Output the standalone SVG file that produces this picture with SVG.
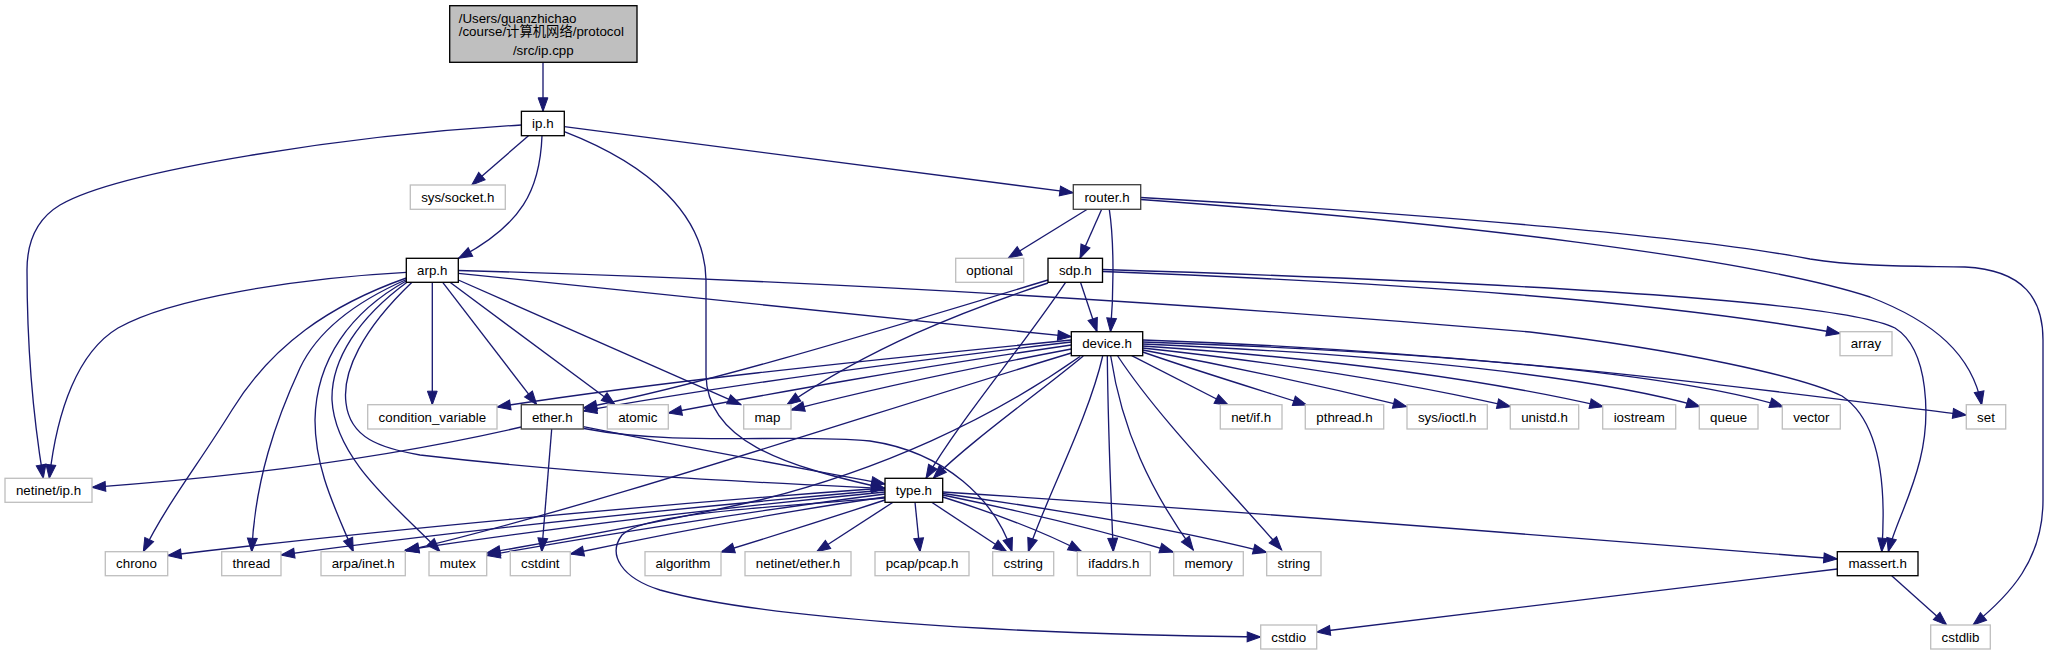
<svg xmlns="http://www.w3.org/2000/svg" width="2049" height="655" viewBox="0 0 2049 655">
<style>
.n rect{fill:#fff;stroke:#000;stroke-width:1.33}
.n.s rect{stroke:#bfbfbf}
.n.g rect{stroke:#404040}
.n.r rect{fill:#bfbfbf;stroke:#000}
text{font-family:"Liberation Sans",Arial,"Noto Sans CJK SC",sans-serif;font-size:13.33px;fill:#000}
.n text{text-anchor:middle}
#edges path{fill:none;stroke:#191970;stroke-width:1.33;marker-end:url(#arr)}
</style>
<defs>
<marker id="arr" markerUnits="userSpaceOnUse" markerWidth="16" markerHeight="12" refX="13.5" refY="4.9" orient="auto" style="overflow:visible">
<path d="M0,0 L13.5,4.9 L0,9.8 Z" fill="#191970" stroke="#191970" stroke-width="1"/>
</marker>
</defs>
<rect width="2049" height="655" fill="#fff"/>
<g id="edges">
<path d="M543,62.3 L543,111.3"/>
<path d="M528.5,135.7 L471.7,185"/>
<path d="M542,135.7 C540,190 522,225 458.5,258.3"/>
<path d="M521.4,125 C350,135 120,170 60,205 C35,220 27,245 27,270 C27,340 32,410 43.3,478.3"/>
<path d="M564.3,131.7 C650,165 705,215 706,280 L706,375 C707,440 780,465 885,488.5"/>
<path d="M564.3,126.7 L1073.3,192.7"/>
<path d="M1087.3,209.3 L1008.3,258"/>
<path d="M1101.7,209.3 L1080,258.3"/>
<path d="M1109.3,209.3 C1114,240 1114,290 1110.5,331.7"/>
<path d="M1140.7,197.5 C1450,215 1700,238 1810,259 C1860,267 1920,266 1965,267 C2025,270 2043,300 2043,340 L2043,500 C2043,560 2010,595 1973,625"/>
<path d="M1140.7,199.5 C1450,222 1750,258 1870,297 C1935,322 1972,355 1981.7,405"/>
<path d="M406.3,272.3 C300,278 170,298 118,328 C78,352 57,410 49.3,478.3"/>
<path d="M406.3,278 C330,305 272,345 232,410 C198,465 166,505 143.3,551.7"/>
<path d="M406.5,279.5 C355,302 318,330 300,368 C276,420 255,480 251.7,551.7"/>
<path d="M407,280.5 C350,312 316,360 315,420 C315,470 336,510 353.3,551.7"/>
<path d="M408,281.5 C358,318 331,360 332,400 C335,460 398,508 440,551.7"/>
<path d="M412,282.3 C362,330 342,372 346,403 C350,438 380,448 420,455 C600,476 750,482 885,488.5"/>
<path d="M432.3,282.3 L432.3,404.7"/>
<path d="M442.7,282.3 L536.7,404.7"/>
<path d="M450,282.3 L615,404.7"/>
<path d="M458.3,280 L741,404.7"/>
<path d="M458.3,273.3 C700,298 900,320 1071.3,336.7"/>
<path d="M458.3,270.5 C800,280 1150,300 1530,332 C1680,350 1800,376 1842,396 C1878,420 1887,480 1881.7,551.7"/>
<path d="M1048,280 C850,340 700,385 583.3,408"/>
<path d="M1048,283 C960,312 870,348 787,404.7"/>
<path d="M1065.6,282.3 C1020,350 960,420 926,478.3"/>
<path d="M1080.5,282.3 L1097,331.7"/>
<path d="M1102.7,271.5 C1400,283 1650,300 1840,333.5"/>
<path d="M1102.7,269.5 C1500,282 1840,300 1895,328 C1930,350 1930,420 1920,460 C1910,500 1895,525 1888.3,551.7"/>
<path d="M1071.3,340 C850,362 650,383 497,407"/>
<path d="M1071.3,342 C850,368 700,390 583.3,411"/>
<path d="M1071.3,345 C900,370 780,392 668.3,413"/>
<path d="M1071.3,349 C950,372 860,392 791,410"/>
<path d="M1071.3,353 C850,420 600,505 405.3,551"/>
<path d="M1080,356.5 C990,420 880,470 760,500 C650,525 560,540 486.7,553"/>
<path d="M1083.3,356 C1040,392 972,440 933.3,478.3"/>
<path d="M1102.7,356 C1088,420 1045,500 1028.3,551.7"/>
<path d="M1107.3,356 C1108,420 1111,500 1113.3,551.7"/>
<path d="M1110.7,356 C1122,430 1150,490 1193.3,550"/>
<path d="M1117.7,356 C1160,420 1230,490 1281.7,550"/>
<path d="M1131.7,355.7 L1228.3,405"/>
<path d="M1142.7,352 C1200,372 1260,390 1306.7,405"/>
<path d="M1142.7,350 C1240,368 1330,388 1406.7,406.7"/>
<path d="M1142.7,348 C1300,365 1420,386 1510.7,406.7"/>
<path d="M1142.7,346 C1350,360 1500,383 1603.3,406.7"/>
<path d="M1142.7,344 C1400,355 1600,378 1700,406.7"/>
<path d="M1142.7,342 C1450,352 1680,375 1783.3,406.7"/>
<path d="M1142.7,340 C1500,352 1800,395 1966.3,415"/>
<path d="M885,488 C650,505 380,530 167.7,555.5"/>
<path d="M885,490 C680,508 450,532 281,555"/>
<path d="M885,492 C720,508 540,530 405.3,550"/>
<path d="M885,494 C760,510 600,535 486.7,555.5"/>
<path d="M885,497 C780,512 660,535 570.3,554"/>
<path d="M885,500 C830,518 770,537 721,552"/>
<path d="M893,502.3 L816.7,551.7"/>
<path d="M915,502.3 L920,551.7"/>
<path d="M931.7,502.3 L1006.7,551.7"/>
<path d="M942.7,497 C1000,515 1050,535 1081.7,551.7"/>
<path d="M942.7,495 C1030,513 1110,533 1173.3,552"/>
<path d="M942.7,493.5 C1060,510 1180,530 1266.7,552.5"/>
<path d="M942.7,492 C1300,515 1600,540 1837.3,559"/>
<path d="M885,498 C750,508 640,515 622,535 C607,555 622,578 660,590 C760,618 1000,634 1260.7,637"/>
<path d="M521.3,427 C400,455 250,476 92,487.3"/>
<path d="M551.7,429 L541.7,551.7"/>
<path d="M583.3,426.7 C700,450 800,468 885,484"/>
<path d="M584,428.5 C680,447 790,433 870,441 C945,452 995,500 1012,551.7"/>
<path d="M1837.3,569 L1316.7,632"/>
<path d="M1891.7,575.7 L1946.7,625"/>
</g>
<g id="node-root" class="n r"><rect x="449.7" y="5.7" width="187.3" height="56.6"/>
<text x="458.7" y="22.7" style="text-anchor:start">/Users/guanzhichao</text>
<text x="458.7" y="36" style="text-anchor:start">/course/计算机网络/protocol</text>
<text x="543.3" y="54.5">/src/ip.cpp</text></g>
<g id="node-ip_h" class="n"><rect x="521.4" y="111.3" width="42.9" height="24.4"/><text x="542.85" y="128">ip.h</text></g>
<g id="node-sys_socket_h" class="n s"><rect x="410.3" y="185" width="95" height="24.3"/><text x="457.8" y="201.8">sys/socket.h</text></g>
<g id="node-router_h" class="n g"><rect x="1073.3" y="184.7" width="67.4" height="24.6"/><text x="1107" y="201.8">router.h</text></g>
<g id="node-arp_h" class="n"><rect x="406.3" y="258.3" width="52" height="24"/><text x="432.3" y="275">arp.h</text></g>
<g id="node-optional" class="n s"><rect x="955.7" y="258.3" width="68" height="24"/><text x="989.7" y="275">optional</text></g>
<g id="node-sdp_h" class="n"><rect x="1048" y="258.3" width="54.5" height="24"/><text x="1075.25" y="275">sdp.h</text></g>
<g id="node-device_h" class="n"><rect x="1071.3" y="331.7" width="71.4" height="24"/><text x="1107" y="348.4">device.h</text></g>
<g id="node-array" class="n s"><rect x="1840" y="331.7" width="52" height="24"/><text x="1866" y="348.4">array</text></g>
<g id="node-condition_variable" class="n s"><rect x="367.7" y="404.7" width="129.3" height="24.3"/><text x="432.35" y="421.5">condition_variable</text></g>
<g id="node-ether_h" class="n g"><rect x="521.3" y="404.7" width="62" height="24.3"/><text x="552.3" y="421.5">ether.h</text></g>
<g id="node-atomic" class="n s"><rect x="607.3" y="404.7" width="61" height="24.3"/><text x="637.8" y="421.5">atomic</text></g>
<g id="node-map" class="n s"><rect x="743.7" y="404.7" width="47.3" height="24.3"/><text x="767.35" y="421.5">map</text></g>
<g id="node-net_if_h" class="n s"><rect x="1220.3" y="404.7" width="61.7" height="24.3"/><text x="1251.15" y="421.5">net/if.h</text></g>
<g id="node-pthread_h" class="n s"><rect x="1305.3" y="404.7" width="78.4" height="24.3"/><text x="1344.5" y="421.5">pthread.h</text></g>
<g id="node-sys_ioctl_h" class="n s"><rect x="1407" y="404.7" width="80.3" height="24.3"/><text x="1447.15" y="421.5">sys/ioctl.h</text></g>
<g id="node-unistd_h" class="n s"><rect x="1510.3" y="404.7" width="68.4" height="24.3"/><text x="1544.5" y="421.5">unistd.h</text></g>
<g id="node-iostream" class="n s"><rect x="1602.7" y="404.7" width="73" height="24.3"/><text x="1639.2" y="421.5">iostream</text></g>
<g id="node-queue" class="n s"><rect x="1699.3" y="404.7" width="58.7" height="24.3"/><text x="1728.65" y="421.5">queue</text></g>
<g id="node-vector" class="n s"><rect x="1782.3" y="404.7" width="58" height="24.3"/><text x="1811.3" y="421.5">vector</text></g>
<g id="node-set" class="n s"><rect x="1966.3" y="404.7" width="39.4" height="24.3"/><text x="1986" y="421.5">set</text></g>
<g id="node-netinet_ip_h" class="n s"><rect x="5" y="478.3" width="87" height="24"/><text x="48.5" y="495">netinet/ip.h</text></g>
<g id="node-type_h" class="n"><rect x="885" y="478.3" width="57.7" height="24"/><text x="913.85" y="495">type.h</text></g>
<g id="node-chrono" class="n s"><rect x="105.3" y="551.7" width="62.4" height="24"/><text x="136.5" y="568.4">chrono</text></g>
<g id="node-thread" class="n s"><rect x="221.7" y="551.7" width="59.3" height="24"/><text x="251.35" y="568.4">thread</text></g>
<g id="node-arpa_inet_h" class="n s"><rect x="321" y="551.7" width="84.3" height="24"/><text x="363.15" y="568.4">arpa/inet.h</text></g>
<g id="node-mutex" class="n s"><rect x="429" y="551.7" width="57.7" height="24"/><text x="457.85" y="568.4">mutex</text></g>
<g id="node-cstdint" class="n s"><rect x="510.3" y="551.7" width="60" height="24"/><text x="540.3" y="568.4">cstdint</text></g>
<g id="node-algorithm" class="n s"><rect x="645" y="551.7" width="76" height="24"/><text x="683" y="568.4">algorithm</text></g>
<g id="node-netinet_ether_h" class="n s"><rect x="745" y="551.7" width="106" height="24"/><text x="798" y="568.4">netinet/ether.h</text></g>
<g id="node-pcap_pcap_h" class="n s"><rect x="875" y="551.7" width="94" height="24"/><text x="922" y="568.4">pcap/pcap.h</text></g>
<g id="node-cstring" class="n s"><rect x="992.7" y="551.7" width="61" height="24"/><text x="1023.2" y="568.4">cstring</text></g>
<g id="node-ifaddrs_h" class="n s"><rect x="1077.3" y="551.7" width="73" height="24"/><text x="1113.8" y="568.4">ifaddrs.h</text></g>
<g id="node-memory" class="n s"><rect x="1173.7" y="551.7" width="69.6" height="24"/><text x="1208.5" y="568.4">memory</text></g>
<g id="node-string" class="n s"><rect x="1266.7" y="551.7" width="54.3" height="24"/><text x="1293.85" y="568.4">string</text></g>
<g id="node-massert_h" class="n"><rect x="1837.3" y="551.7" width="80.7" height="24"/><text x="1877.65" y="568.4">massert.h</text></g>
<g id="node-cstdio" class="n s"><rect x="1260.7" y="625" width="56" height="24"/><text x="1288.7" y="641.7">cstdio</text></g>
<g id="node-cstdlib" class="n s"><rect x="1930.7" y="625" width="59.6" height="24"/><text x="1960.5" y="641.7">cstdlib</text></g>
</svg>
